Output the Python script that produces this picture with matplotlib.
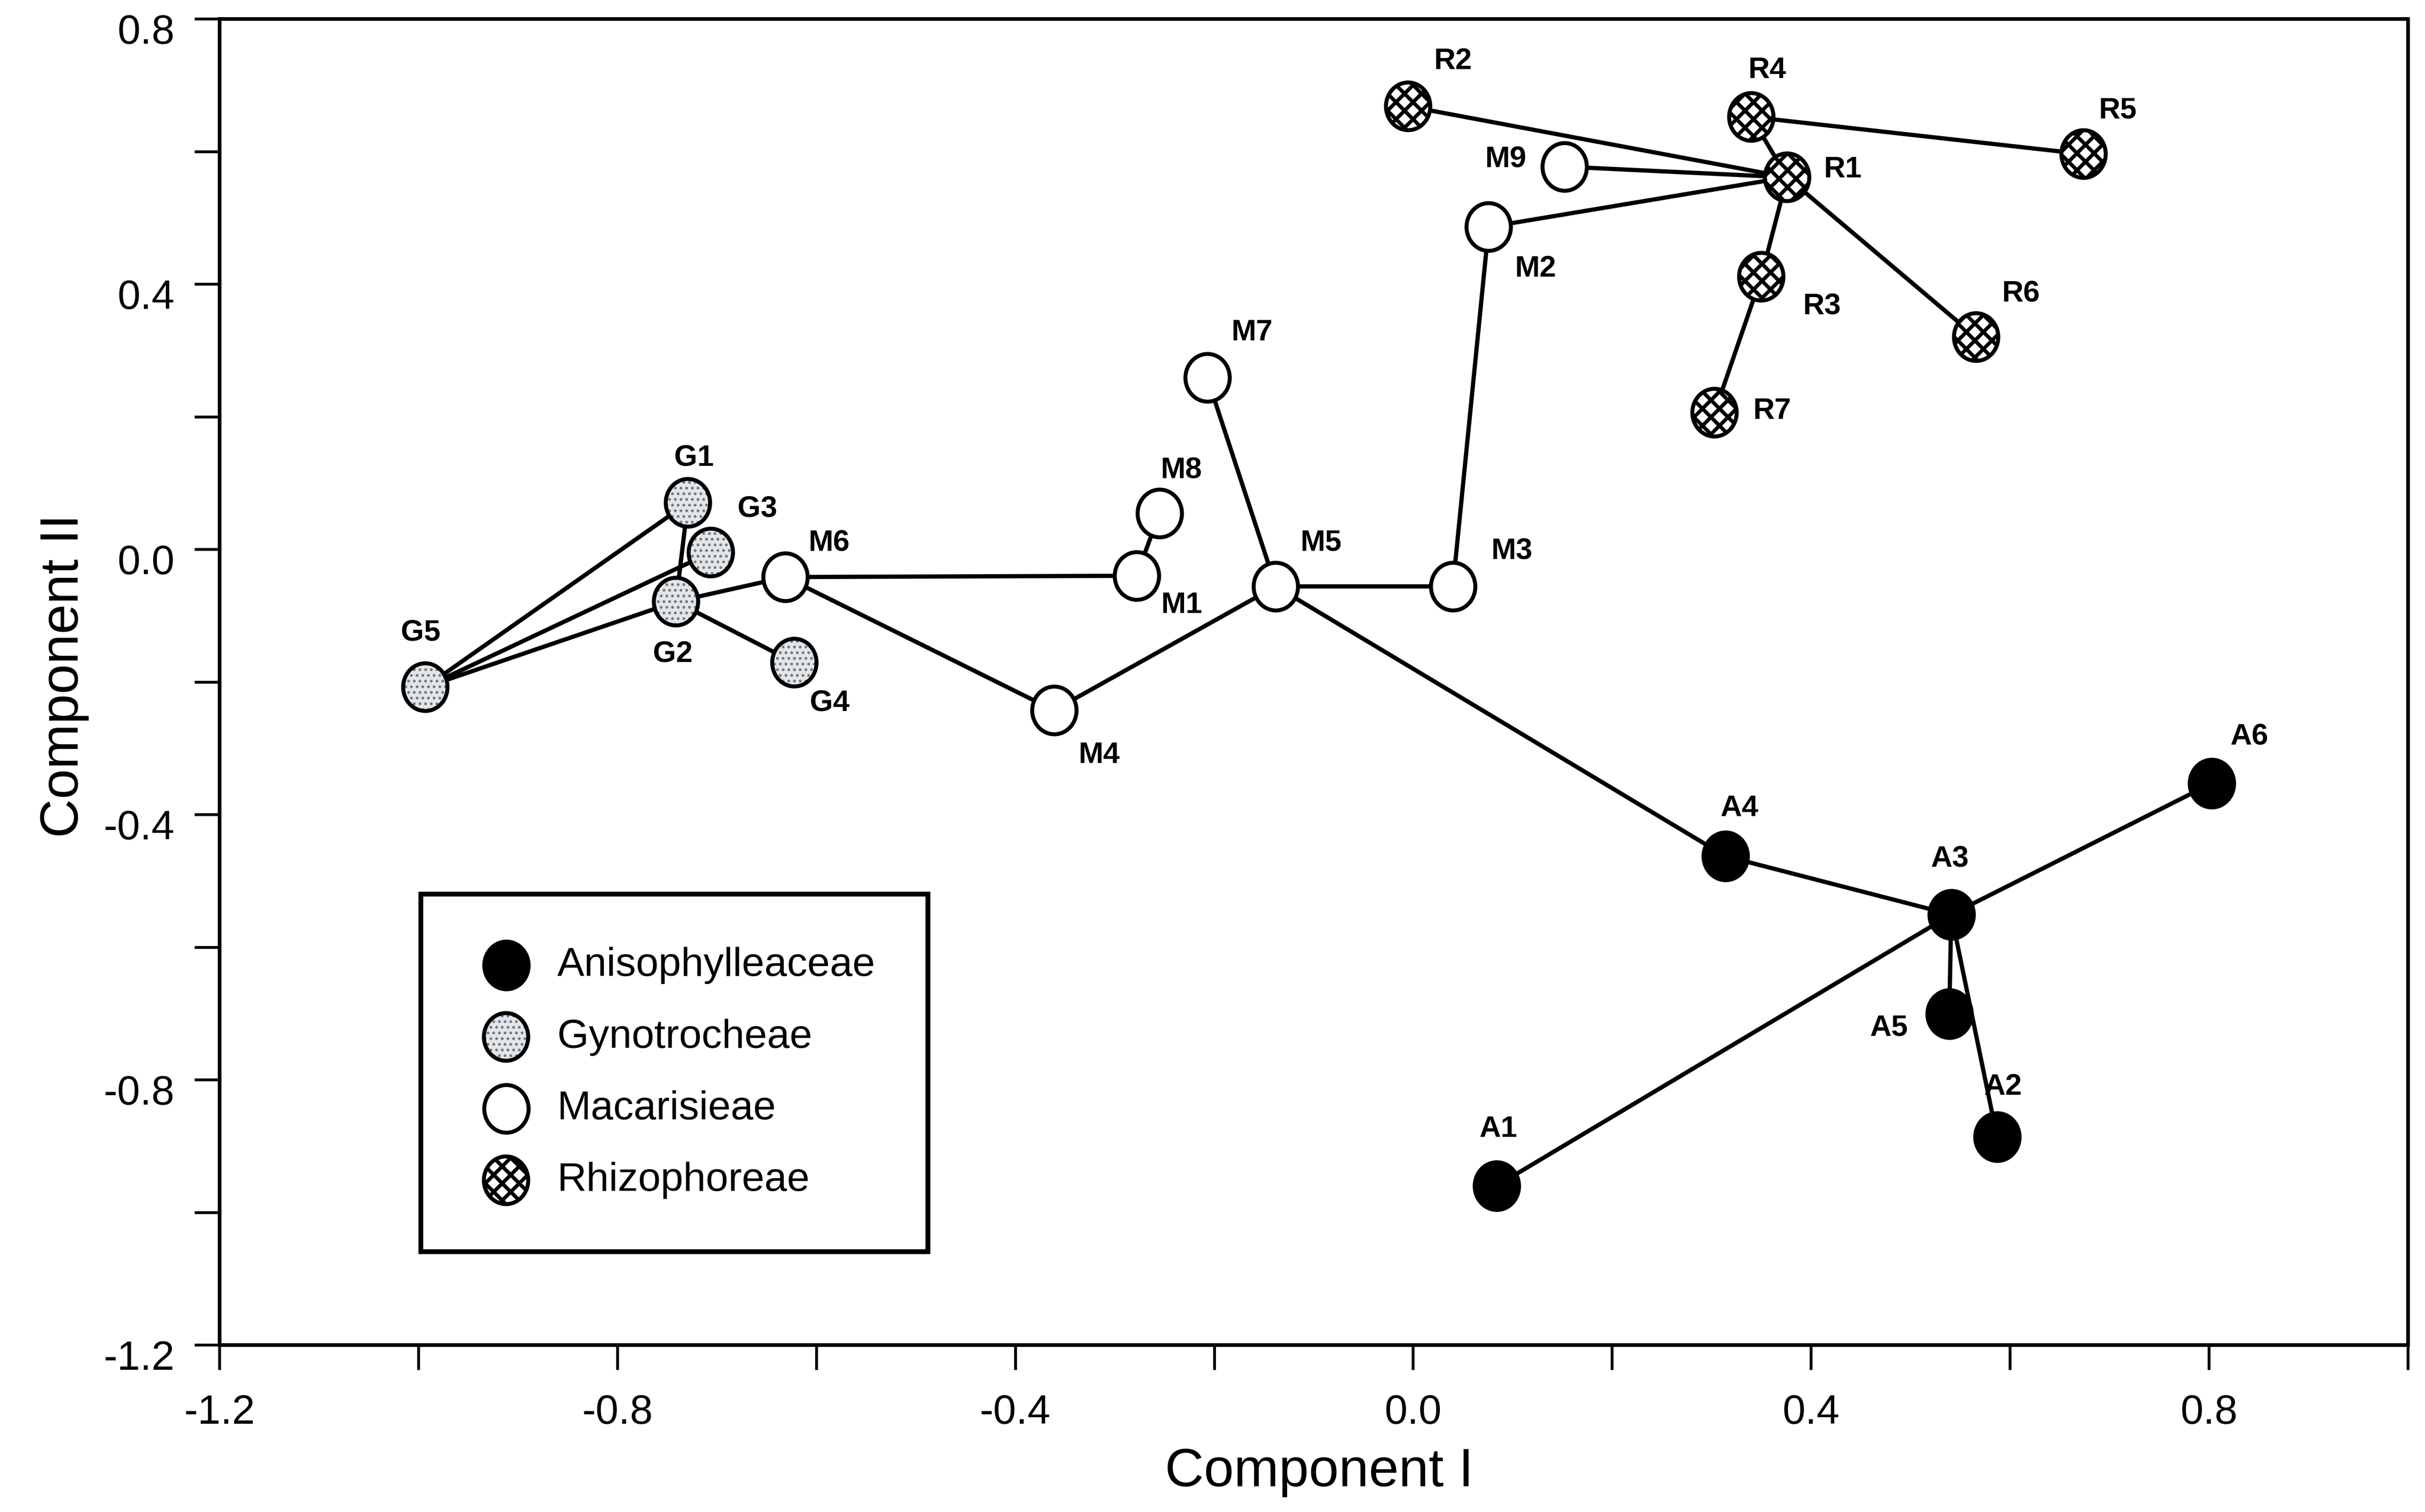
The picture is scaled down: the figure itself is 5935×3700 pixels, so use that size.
import matplotlib
matplotlib.use("Agg")
import matplotlib.pyplot as plt
from matplotlib.path import Path
from matplotlib.transforms import Affine2D, ScaledTranslation
from matplotlib.legend_handler import HandlerTuple

plt.rcParams["font.family"] = ["Liberation Sans", "DejaVu Sans"]
plt.rcParams["axes.unicode_minus"] = False
plt.rcParams["hatch.linewidth"] = 1.3

# --- data (component I, component II) ---
aniso_names = ["A1", "A2", "A3", "A4", "A5", "A6"]
aniso_x = [0.084, 0.587, 0.541, 0.314, 0.539, 0.803]
aniso_y = [-0.960, -0.886, -0.551, -0.463, -0.701, -0.353]

gyno_names = ["G1", "G2", "G3", "G4", "G5"]
gyno_x = [-0.729, -0.741, -0.706, -0.622, -0.993]
gyno_y = [0.070, -0.079, -0.005, -0.171, -0.208]

macar_names = ["M1", "M2", "M3", "M4", "M5", "M6", "M7", "M8", "M9"]
macar_x = [-0.278, 0.076, 0.040, -0.361, -0.138, -0.631, -0.207, -0.255, 0.152]
macar_y = [-0.040, 0.486, -0.056, -0.243, -0.056, -0.042, 0.259, 0.054, 0.577]

rhizo_names = ["R1", "R2", "R3", "R4", "R5", "R6", "R7"]
rhizo_x = [0.376, -0.005, 0.350, 0.340, 0.674, 0.566, 0.303]
rhizo_y = [0.561, 0.668, 0.411, 0.652, 0.596, 0.320, 0.206]

edges = [
    ("G5", "G1"), ("G5", "G3"), ("G5", "G2"), ("G1", "G2"), ("G2", "G4"),
    ("G2", "M6"), ("M6", "M1"), ("M6", "M4"), ("M1", "M8"), ("M4", "M5"),
    ("M5", "M7"), ("M5", "M3"), ("M5", "A4"), ("M3", "M2"), ("M2", "R1"),
    ("M9", "R1"), ("R2", "R1"), ("R4", "R1"), ("R4", "R5"), ("R1", "R3"),
    ("R1", "R6"), ("R3", "R7"), ("A4", "A3"), ("A3", "A6"), ("A3", "A1"),
    ("A3", "A5"), ("A3", "A2"),
]

group_labels = ["Anisophylleaceae", "Gynotrocheae", "Macarisieae", "Rhizophoreae"]

x_major = [-1.2, -0.8, -0.4, 0.0, 0.4, 0.8]
x_minor = [-1.0, -0.6, -0.2, 0.2, 0.6, 1.0]
y_major = [0.8, 0.4, 0.0, -0.4, -0.8, -1.2]
y_minor = [0.6, 0.2, -0.2, -0.6, -1.0]

# label offsets in points from each marker centre
label_offsets = {
    "A1": (0.5, 20), "A2": (2.0, 17.5), "A3": (-0.5, 19.6), "A4": (4.9, 16.9),
    "A5": (-21.3, -4.9), "A6": (13.1, 16.4),
    "G1": (2.2, 15.8), "G2": (-1.1, -18.5), "G3": (16.4, 15.3), "G4": (12.5, -14.2),
    "G5": (-1.6, 19.1),
    "M1": (15.8, -10.4), "M2": (16.4, -14.7), "M3": (20.7, 12.5), "M4": (15.8, -15.8),
    "M5": (15.8, 15.3), "M6": (15.3, 12.0), "M7": (15.8, 15.8), "M8": (7.6, 15.3),
    "M9": (-20.7, 2.7),
    "R1": (19.6, 2.7), "R2": (15.8, 15.8), "R3": (21.3, -10.4), "R4": (5.5, 16.4),
    "R5": (12.0, 15.3), "R6": (15.8, 15.3), "R7": (20.2, 0.5),
}

pos = {}
for names, xs, ys in [(aniso_names, aniso_x, aniso_y), (gyno_names, gyno_x, gyno_y),
                      (macar_names, macar_x, macar_y), (rhizo_names, rhizo_x, rhizo_y)]:
    for n, x, y in zip(names, xs, ys):
        pos[n] = (x, y)

fig = plt.figure(figsize=(11.87, 7.4), dpi=500)
ax = fig.add_axes([537 / 5935, 1 - 3291 / 3700, (5893 - 537) / 5935, (3291 - 46) / 3700])

# slightly tall ellipse marker like the original
ell = Path.unit_circle().transformed(Affine2D().scale(0.93, 1.0))
msize = 16.8 ** 2
elw = 1.4

for a, b in edges:
    ax.plot([pos[a][0], pos[b][0]], [pos[a][1], pos[b][1]], color="black", lw=1.5,
            solid_capstyle="butt", zorder=1)

h_a = ax.scatter(aniso_x, aniso_y, s=msize, marker=ell, facecolor="black",
                 edgecolor="black", linewidths=elw, zorder=3)
h_g_fill = ax.scatter(gyno_x, gyno_y, s=msize, marker=ell, facecolor="#e2e6e9",
                      edgecolor="#737c83", linewidths=0, hatch="......", zorder=3)
h_g_edge = ax.scatter(gyno_x, gyno_y, s=msize, marker=ell, facecolor="none",
                      edgecolor="black", linewidths=elw, zorder=4)
h_m = ax.scatter(macar_x, macar_y, s=msize, marker=ell, facecolor="white",
                 edgecolor="black", linewidths=elw, zorder=3)
h_r = ax.scatter(rhizo_x, rhizo_y, s=msize, marker=ell, facecolor="white",
                 edgecolor="black", linewidths=elw, hatch="xxxx", zorder=3)
if hasattr(h_g_fill, "set_hatch_linewidth"):
    h_g_fill.set_hatch_linewidth(0.6)

for n, (x, y) in pos.items():
    ax.annotate(n, (x, y), xytext=label_offsets[n], textcoords="offset points",
                ha="center", va="center", fontsize=10.5, fontweight="bold", zorder=5)

ax.set_xlim(-1.2, 1.0)
ax.set_ylim(-1.2, 0.8)
ax.set_xticks(x_major)
ax.set_xticklabels([f"{v:.1f}" for v in x_major])
ax.set_xticks(x_minor, minor=True)
ax.set_yticks(y_major)
ax.set_yticklabels([f"{v:.1f}" for v in y_major])
ax.set_yticks(y_minor, minor=True)
ax.tick_params(which="both", direction="out", length=8.8, width=1.0, colors="black")
ax.tick_params(which="major", labelsize=14.5)
ax.tick_params(axis="x", pad=8.5)
ax.tick_params(axis="y", pad=7)
for lab in ax.get_yticklabels():
    lab.set_transform(lab.get_transform() + ScaledTranslation(0, -3.5 / 72, fig.dpi_scale_trans))
for sp in ax.spines.values():
    sp.set_linewidth(1.3)

ax.set_xlabel("Component I", fontsize=19)
ax.set_ylabel("Component II", fontsize=19)
ax.xaxis.label.set_va("center")
ax.yaxis.label.set_va("center")
ax.xaxis.set_label_coords(0.5026, -0.096)
ax.yaxis.set_label_coords(-0.071, 0.5045)

leg = ax.legend([h_a, (h_g_fill, h_g_edge), h_m, h_r], group_labels,
                handler_map={tuple: HandlerTuple(ndivide=1, pad=0)},
                loc="upper left", bbox_to_anchor=(1030 / 5935, 1 - 2188 / 3700),
                bbox_transform=fig.transFigure, borderaxespad=0,
                fontsize=14.3, scatterpoints=1, fancybox=False, framealpha=1,
                edgecolor="black", borderpad=1.3, handlelength=1.6,
                handletextpad=0.46, labelspacing=0.85)
leg.get_frame().set_linewidth(1.7)
for hnd in leg.legend_handles:
    if hnd is not None and hasattr(hnd, "set_hatch_linewidth") and hnd.get_hatch() == "......":
        hnd.set_hatch_linewidth(0.6)

fig.savefig("out.png", dpi=500, facecolor="white")
